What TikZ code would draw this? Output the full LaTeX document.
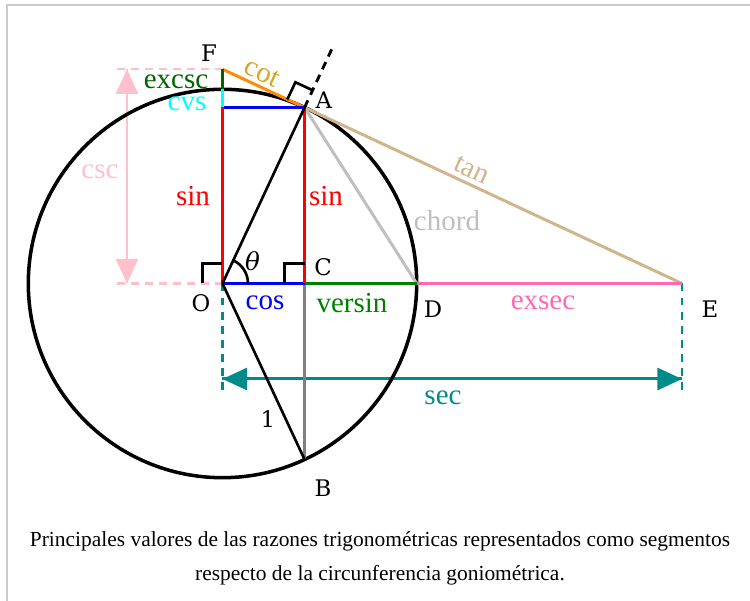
\documentclass[tikz,border=0pt]{standalone}
\usepackage{fontspec}
\setmainfont{Liberation Serif}
\newfontfamily\ptfont{DejaVu Serif}
\usetikzlibrary{arrows.meta,calc}
\definecolor{excscGreen}{HTML}{006400}
\definecolor{versinGreen}{HTML}{008000}
\definecolor{exsecPink}{HTML}{FF69B4}
\definecolor{cscPink}{HTML}{FFC0CB}
\definecolor{tanBrown}{HTML}{D2B48C}
\definecolor{cotOrange}{HTML}{FF8C00}
\definecolor{cotGold}{HTML}{DAA520}
\definecolor{secTeal}{HTML}{008B8B}
\definecolor{cvsCyan}{HTML}{00FFFF}
\definecolor{frameGray}{HTML}{CCCCCC}

\begin{document}
\begin{tikzpicture}[fn/.style={font=\fontsize{16.5}{18}\selectfont},
  pt/.style={font=\ptfont\fontsize{13}{15}\selectfont},
  seg/.style={line width=1.7pt},
  anglemark/.style={line width=1.5pt},
  guide/.style={line width=1.2pt, dash pattern=on 4.5pt off 3.5pt},
  bigtip/.style={-{Triangle[length=14pt,width=12.5pt]}}]
  \def\R{3.884}
  \useasboundingbox (-4.45,-6.35) rectangle (10.55,5.67);
  \draw[frameGray, line width=1pt] (-4.31,-6.35) -- (-4.31,5.57) -- (10.55,5.57);
  % points of the figure
  \coordinate (O) at (0,0);
  \coordinate (A) at (65:\R);
  \coordinate (B) at (-65:\R);
  \coordinate (C) at ({\R*cos(65)},0);
  \coordinate (D) at (\R,0);
  \coordinate (E) at ({\R/cos(65)},0);
  \coordinate (F) at (0,{\R/sin(65)});
  \coordinate (G) at (0,{\R*sin(65)});
  \coordinate (H) at (0,\R);
  \coordinate (Aout) at (65:5.2);
  % csc and sec guides
  \coordinate (cscTop) at (-2.11,0 |- F);
  \coordinate (cscBot) at (-2.11,0);
  \coordinate (cscArrTop) at (-1.91,0 |- F);
  \coordinate (cscArrBot) at (-1.91,0);
  \coordinate (secL) at (0,-2.13);
  \coordinate (secR) at (E |- secL);
  \coordinate (secArrL) at (0,-1.91);
  \coordinate (secArrR) at (E |- secArrL);
  \draw[cscPink, guide] (cscTop) -- (F);
  \draw[cscPink, guide] (cscBot) -- (O);
  \draw[cscPink, seg, bigtip] (cscArrTop) -- (cscArrBot);
  \draw[cscPink, seg, bigtip] (cscArrBot) -- (cscArrTop);
  \draw[secTeal, guide] (O) -- (secL);
  \draw[secTeal, guide] (E) -- (secR);
  \draw[secTeal, seg, bigtip] (secArrL) -- (secArrR);
  \draw[secTeal, seg, bigtip] (secArrR) -- (secArrL);
  % unit circle
  \draw[line width=2pt] (O) circle (\R);
  % segments
  \draw[gray, seg] (C) -- (B);
  \draw[black!25, seg] (A) -- (D);
  \draw[tanBrown, seg] (A) -- (E);
  \draw[cotOrange, seg] (F) -- (A);
  \draw[exsecPink, seg] (D) -- (E);
  \draw[versinGreen, seg] (C) -- (D);
  \draw[blue, seg] (O) -- (C);
  \draw[blue, seg] (G) -- (A);
  \draw[red, seg] (O) -- (G);
  \draw[red, seg] (C) -- (A);
  \draw[cvsCyan, seg] (G) -- (H);
  \draw[excscGreen, seg] (H) -- (F);
  \draw[line width=1.5pt] (O) -- (A);
  \draw[line width=1.5pt] (O) -- (B);
  \draw[guide, line width=1.6pt] (A) -- (Aout);
  % right angles and theta
  \draw[anglemark] (-0.4,0) -- (-0.4,0.4) -- (0,0.4);
  \draw[anglemark] ($(C)+(-0.4,0)$) -- ++(0,0.4) -- ++(0.4,0);
  \draw[anglemark] ($(A)+(155:0.38)$) -- ++(65:0.38) -- ++(-25:0.38);
  \draw[anglemark] (0.51,0) arc (0:65:0.51);
  % function labels
  \node[fn, excscGreen] (lexcsc) at (-0.93,4.03) {excsc};
  \node[fn, cvsCyan] (lcvs) at (-0.71,3.59) {cvs};
  \node[fn, cotGold, rotate=-25] (lcot) at (0.79,4.21) {cot};
  \node[fn, red] (lsinL) at (-0.59,1.75) {sin};
  \node[fn, red] (lsinR) at (2.07,1.75) {sin};
  \node[fn, blue] (lcos) at (0.85,-0.39) {cos};
  \node[fn, versinGreen] (lversin) at (2.59,-0.39) {versin};
  \node[fn, exsecPink] (lexsec) at (6.41,-0.39) {exsec};
  \node[fn, black!25] (lchord) at (4.49,1.25) {chord};
  \node[fn, tanBrown, rotate=-25] (ltan) at (4.99,2.27) {tan};
  \node[fn, secTeal] (lsec) at (4.41,-2.29) {sec};
  \node[fn, cscPink] (lcsc) at (-2.45,2.23) {csc};
  % point labels
  \node[pt] (lF) at (-0.27,4.61) {F};
  \node[pt] (lA) at (2.03,3.67) {A};
  \node[pt] (lO) at (-0.43,-0.39) {O};
  \node[pt] (lC) at (2.01,0.33) {C};
  \node[pt] (lD) at (4.21,-0.51) {D};
  \node[pt] (lE) at (9.75,-0.51) {E};
  \node[pt] (lB) at (2.01,-4.09) {B};
  \node[pt, font=\ptfont\fontsize{14}{16}\selectfont\itshape] (ltheta) at (0.6,0.45) {θ};
  \node[pt] (lone) at (0.91,-2.71) {1};
  % caption
  \node[font=\fontsize{12.2}{19.3}\selectfont, align=center] (caption) at (3.15,-5.49)
    {Principales valores de las razones trigonométricas representados como segmentos\\
     respecto de la circunferencia goniométrica.};
\end{tikzpicture}
\end{document}
